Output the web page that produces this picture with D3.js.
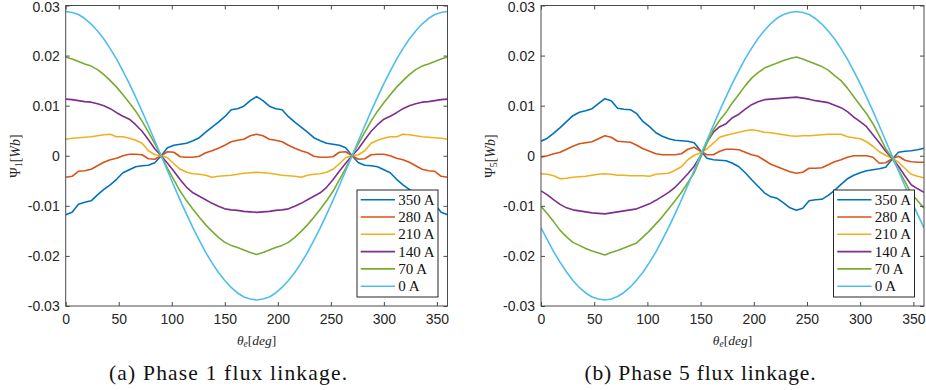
<!DOCTYPE html>
<html>
<head>
<meta charset="utf-8">
<script src="https://cdn.jsdelivr.net/npm/d3@7"></script>
<style>
  body { margin: 0; background: #fff; }
  svg { display: block; }
  .tick text { font-family: "Liberation Sans", Arial, sans-serif; font-size: 14px; fill: #262626; }
</style>
</head>
<body>
<svg id="chart" width="926" height="390"></svg>
<script>
const angles = [0,6,12,18,24,30,36,42,48,54,60,66,72,78,84,90,96,102,108,114,120,126,132,138,144,150,156,162,168,174,180,
  186,192,198,204,210,216,222,228,234,240,246,252,258,264,270,276,282,288,294,300,306,312,318,324,330,336,342,348,354,360];

const currents = ['350 A', '280 A', '210 A', '140 A', '70 A', '0 A'];
const colorList = ['#0072BD', '#D95319', '#EDB120', '#7E2F8E', '#77AC30', '#4DBEEE'];

const xTicks = [0, 50, 100, 150, 200, 250, 300, 350];
const yTicks = [-0.03, -0.02, -0.01, 0, 0.01, 0.02, 0.03];
const yTickLabels = ['-0.03', '-0.02', '-0.01', '0', '0.01', '0.02', '0.03'];

// phase 1 flux linkage [Wb]
const phase1_350 = [-.0118,-.0113,-.0097,-.0093,-.0090,-.0078,-.0067,-.0058,-.0047,-.0034,-.0028,-.0022,-.0020,-.0019,-.0014,0,.0016,.0021,.0023,.0025,.0030,.0036,.0047,.0057,.0067,.0078,.0092,.0094,.0099,.0110,.0118,
  .0110,.0099,.0094,.0092,.0078,.0067,.0057,.0047,.0036,.0030,.0025,.0023,.0021,.0016,0,-.0014,-.0019,-.0020,-.0022,-.0028,-.0034,-.0047,-.0058,-.0067,-.0078,-.0090,-.0093,-.0097,-.0113,-.0118];
const phase1_280 = [-.0043,-.0041,-.0031,-.0030,-.0027,-.0020,-.0013,-.0008,-.0005,.0000,.0003,.0003,.0002,-.0006,-.0007,0,.0008,.0007,-.0002,-.0003,-.0003,-.0001,.0006,.0010,.0015,.0021,.0028,.0031,.0033,.0040,.0043,
  .0040,.0033,.0031,.0028,.0021,.0015,.0010,.0006,-.0001,-.0003,-.0003,-.0002,.0007,.0008,0,-.0007,-.0006,.0002,.0003,.0003,.0000,-.0005,-.0008,-.0013,-.0020,-.0027,-.0030,-.0031,-.0041,-.0043];
const phase1_210 = [.0033,.0035,.0036,.0037,.0038,.0040,.0042,.0043,.0038,.0038,.0035,.0031,.0025,.0010,.0002,0,-.0004,-.0016,-.0027,-.0033,-.0036,-.0037,-.0039,-.0043,-.0041,-.0040,-.0039,-.0037,-.0035,-.0034,-.0033,
  -.0034,-.0035,-.0037,-.0039,-.0040,-.0041,-.0043,-.0039,-.0037,-.0036,-.0033,-.0027,-.0016,-.0004,0,.0002,.0010,.0025,.0031,.0035,.0038,.0038,.0043,.0042,.0040,.0038,.0037,.0036,.0035,.0033];
const phase1_140 = [.0113,.0112,.0110,.0108,.0107,.0104,.0100,.0094,.0086,.0079,.0073,.0062,.0049,.0032,.0014,0,-.0015,-.0031,-.0048,-.0063,-.0074,-.0081,-.0088,-.0095,-.0101,-.0106,-.0108,-.0109,-.0111,-.0112,-.0113,
  -.0112,-.0111,-.0109,-.0108,-.0106,-.0101,-.0095,-.0088,-.0081,-.0074,-.0063,-.0048,-.0031,-.0015,0,.0014,.0032,.0049,.0062,.0073,.0079,.0086,.0094,.0100,.0104,.0107,.0108,.0110,.0112,.0113];
const phase1_70 = [.0197,.0193,.0188,.0183,.0179,.0172,.0162,.0150,.0137,.0122,.0106,.0089,.0069,.0047,.0024,0,-.0025,-.0048,-.0071,-.0090,-.0107,-.0123,-.0138,-.0151,-.0163,-.0173,-.0179,-.0183,-.0188,-.0193,-.0197,
  -.0193,-.0188,-.0183,-.0179,-.0173,-.0163,-.0151,-.0138,-.0123,-.0107,-.0090,-.0071,-.0048,-.0025,0,.0024,.0047,.0069,.0089,.0106,.0122,.0137,.0150,.0162,.0172,.0179,.0183,.0188,.0193,.0197];
const phase1_0 = [.0288,.0286,.0282,.0274,.0263,.0249,.0233,.0214,.0193,.0169,.0144,.0117,.0089,.0060,.0030,0,-.0030,-.0060,-.0089,-.0117,-.0144,-.0169,-.0193,-.0214,-.0233,-.0249,-.0263,-.0274,-.0282,-.0286,-.0288,
  -.0286,-.0282,-.0274,-.0263,-.0249,-.0233,-.0214,-.0193,-.0169,-.0144,-.0117,-.0089,-.0060,-.0030,0,.0030,.0060,.0089,.0117,.0144,.0169,.0193,.0214,.0233,.0249,.0263,.0274,.0282,.0286,.0288];

// phase 5 flux linkage [Wb]
const phase5_350 = [.0029,.0035,.0045,.0056,.0068,.0080,.0087,.0090,.0094,.0104,.0114,.0110,.0095,.0093,.0092,.0084,.0068,.0058,.0046,.0039,.0034,.0031,.0030,.0029,.0026,.0010,-.0005,-.0008,-.0009,-.0010,-.0015,
  -.0022,-.0034,-.0048,-.0061,-.0074,-.0082,-.0085,-.0094,-.0104,-.0109,-.0105,-.0090,-.0088,-.0087,-.0079,-.0069,-.0057,-.0046,-.0039,-.0034,-.0030,-.0028,-.0026,-.0023,-.0007,.0007,.0009,.0010,.0012,.0015];
const phase5_280 = [-.0003,.0000,.0004,.0007,.0013,.0019,.0024,.0026,.0028,.0034,.0040,.0037,.0029,.0028,.0027,.0021,.0014,.0009,.0004,.0002,.0002,.0002,.0004,.0013,.0017,.0009,.0002,.0002,.0009,.0013,.0013,
  .0012,.0007,.0002,-.0001,-.0009,-.0017,-.0022,-.0027,-.0032,-.0035,-.0033,-.0025,-.0025,-.0024,-.0018,-.0012,-.0008,-.0003,.0000,.0000,.0000,-.0003,-.0015,-.0014,-.0006,-.0001,-.0009,-.0012,-.0013,-.0013];
const phase5_210 = [-.0036,-.0037,-.0040,-.0046,-.0045,-.0043,-.0042,-.0041,-.0039,-.0037,-.0036,-.0037,-.0039,-.0039,-.0040,-.0040,-.0040,-.0041,-.0037,-.0036,-.0035,-.0029,-.0022,-.0008,.0001,.0006,.0014,.0025,.0037,.0041,.0044,
  .0047,.0050,.0052,.0050,.0047,.0046,.0044,.0042,.0040,.0039,.0040,.0040,.0041,.0042,.0043,.0043,.0043,.0038,.0036,.0034,.0028,.0019,.0008,.0001,-.0005,-.0013,-.0025,-.0037,-.0041,-.0044];
const phase5_140 = [-.0070,-.0078,-.0088,-.0097,-.0104,-.0108,-.0110,-.0112,-.0114,-.0115,-.0116,-.0114,-.0112,-.0110,-.0108,-.0106,-.0101,-.0096,-.0089,-.0081,-.0073,-.0063,-.0050,-.0036,-.0021,.0000,.0027,.0047,.0058,.0064,.0076,
  .0083,.0093,.0102,.0108,.0112,.0113,.0114,.0115,.0116,.0117,.0115,.0113,.0110,.0108,.0106,.0101,.0096,.0088,.0077,.0068,.0058,.0042,.0026,.0009,-.0005,-.0021,-.0040,-.0058,-.0066,-.0073];
const phase5_70 = [-.0101,-.0116,-.0132,-.0149,-.0162,-.0173,-.0179,-.0185,-.0190,-.0194,-.0198,-.0193,-.0189,-.0184,-.0179,-.0174,-.0162,-.0150,-.0136,-.0122,-.0106,-.0090,-.0073,-.0054,-.0034,-.0004,.0025,.0052,.0071,.0087,.0106,
  .0123,.0140,.0155,.0166,.0175,.0180,.0185,.0190,.0194,.0197,.0193,.0188,.0183,.0178,.0171,.0160,.0150,.0135,.0118,.0101,.0084,.0064,.0040,.0014,-.0004,-.0028,-.0051,-.0075,-.0090,-.0105];
const phase5_0 = [-.0144,-.0168,-.0192,-.0213,-.0232,-.0249,-.0263,-.0274,-.0282,-.0286,-.0288,-.0286,-.0281,-.0273,-.0262,-.0248,-.0232,-.0213,-.0192,-.0168,-.0143,-.0116,-.0088,-.0059,-.0029,.0002,.0031,.0061,.0090,.0118,.0145,
  .0170,.0194,.0215,.0234,.0250,.0264,.0275,.0282,.0286,.0288,.0286,.0282,.0274,.0263,.0249,.0233,.0214,.0193,.0169,.0144,.0117,.0089,.0060,.0030,.0000,-.0030,-.0060,-.0089,-.0117,-.0144];

const svg = d3.select('#chart');
const axisColor = '#4a4a4a';
const serif = '"Liberation Serif", "DejaVu Serif", serif';
const plotTop = 5.5, plotBottom = 306;

function drawPanel(left, right, series, sub, caption, captionX, captionWidth) {
  const x = d3.scaleLinear().domain([0, 360]).range([left, right]);
  const y = d3.scaleLinear().domain([-0.03, 0.03]).range([plotBottom, plotTop]);
  const g = svg.append('g');

  // curves
  const line = d3.line()
    .x((d, i) => x(angles[i]))
    .y(d => y(d));

  const clipId = 'clip' + sub;
  svg.append('clipPath').attr('id', clipId)
    .append('rect').attr('x', left).attr('y', plotTop).attr('width', right - left).attr('height', plotBottom - plotTop);

  g.append('g').attr('clip-path', 'url(#' + clipId + ')')
    .selectAll('path')
    .data(series)
    .join('path')
    .attr('d', d => line(d))
    .attr('fill', 'none')
    .attr('stroke', (d, i) => colorList[i])
    .attr('stroke-width', 1.6)
    .attr('stroke-linejoin', 'round');

  // axes, ticks pointing inward
  g.append('g')
    .attr('transform', 'translate(0,' + plotBottom + ')')
    .call(d3.axisBottom(x).tickValues(xTicks).tickSizeInner(-4).tickSizeOuter(0).tickPadding(8))
    .call(a => a.select('.domain').remove())
    .call(a => a.selectAll('.tick line').attr('stroke', axisColor));

  g.append('g')
    .attr('transform', 'translate(0,' + plotTop + ')')
    .call(d3.axisTop(x).tickValues(xTicks).tickSizeInner(-4).tickSizeOuter(0).tickFormat(''))
    .call(a => a.select('.domain').remove())
    .call(a => a.selectAll('.tick line').attr('stroke', axisColor));

  g.append('g')
    .attr('transform', 'translate(' + left + ',0)')
    .call(d3.axisLeft(y).tickValues(yTicks).tickSizeInner(-4).tickSizeOuter(0).tickPadding(6)
      .tickFormat((d, i) => yTickLabels[i]))
    .call(a => a.select('.domain').remove())
    .call(a => a.selectAll('.tick line').attr('stroke', axisColor))
    .call(a => a.selectAll('.tick text').attr('dy', (d, i) => i === yTicks.length - 1 ? '0.45em' : '0.34em'));

  g.append('g')
    .attr('transform', 'translate(' + right + ',0)')
    .call(d3.axisRight(y).tickValues(yTicks).tickSizeInner(-4).tickSizeOuter(0).tickFormat(''))
    .call(a => a.select('.domain').remove())
    .call(a => a.selectAll('.tick line').attr('stroke', axisColor));

  g.append('rect')
    .attr('x', left).attr('y', plotTop)
    .attr('width', right - left).attr('height', plotBottom - plotTop)
    .attr('fill', 'none')
    .attr('stroke', axisColor)
    .attr('stroke-width', 1);

  // x label  θe[deg]
  const xl = g.append('text')
    .attr('x', (left + right) / 2)
    .attr('y', 345)
    .attr('text-anchor', 'middle')
    .style('font-family', serif)
    .style('font-size', '13.5px')
    .attr('fill', '#262626');
  xl.append('tspan').style('font-style', 'italic').text('θ');
  xl.append('tspan').style('font-style', 'italic').style('font-size', '9.5px').attr('dy', 2).text('e');
  xl.append('tspan').attr('dy', -2).text('[');
  xl.append('tspan').style('font-style', 'italic').text('deg');
  xl.append('tspan').text(']');

  // y label  Ψn[Wb]
  const yl = g.append('text')
    .attr('transform', 'translate(' + (left - 46) + ',' + 156 + ') rotate(-90)')
    .attr('text-anchor', 'middle')
    .style('font-family', serif)
    .style('font-size', '14px')
    .attr('fill', '#262626');
  yl.append('tspan').text('Ψ');
  yl.append('tspan').style('font-size', '10px').attr('dy', 2).text(sub);
  yl.append('tspan').attr('dy', -2).text('[');
  yl.append('tspan').style('font-style', 'italic').text('Wb');
  yl.append('tspan').text(']');

  // legend
  const lx = right - 90.5, ly = 190, lw = 81, lh = 107;
  const legend = g.append('g');
  legend.append('rect')
    .attr('x', lx).attr('y', ly).attr('width', lw).attr('height', lh)
    .attr('fill', '#fff').attr('stroke', '#262626').attr('stroke-width', 1);
  const rows = legend.selectAll('g.row')
    .data(currents)
    .join('g')
    .attr('class', 'row')
    .attr('transform', (d, i) => 'translate(0,' + (ly + 9.7 + i * 17.3) + ')');
  rows.append('line')
    .attr('x1', lx + 3.7).attr('x2', lx + 38)
    .attr('y1', 0).attr('y2', 0)
    .attr('stroke', (d, i) => colorList[i])
    .attr('stroke-width', 1.6);
  rows.append('text')
    .attr('x', lx + 41.3)
    .attr('y', 5)
    .style('font-family', serif)
    .style('font-size', '15px')
    .attr('fill', '#111')
    .text(d => d);

  // caption
  svg.append('text')
    .attr('x', captionX)
    .attr('y', 380)
    .attr('text-anchor', 'middle')
    .attr('textLength', captionWidth)
    .attr('lengthAdjust', 'spacing')
    .style('font-family', serif)
    .style('font-size', '21.5px')
    .attr('fill', '#111')
    .text(caption);
}

drawPanel(65.7, 447.5,
  [phase1_350, phase1_280, phase1_210, phase1_140, phase1_70, phase1_0],
  '1', '(a) Phase 1 flux linkage.', 228, 238);
drawPanel(541, 924,
  [phase5_350, phase5_280, phase5_210, phase5_140, phase5_70, phase5_0],
  '5', '(b) Phase 5 flux linkage.', 700, 231);
</script>
</body>
</html>
